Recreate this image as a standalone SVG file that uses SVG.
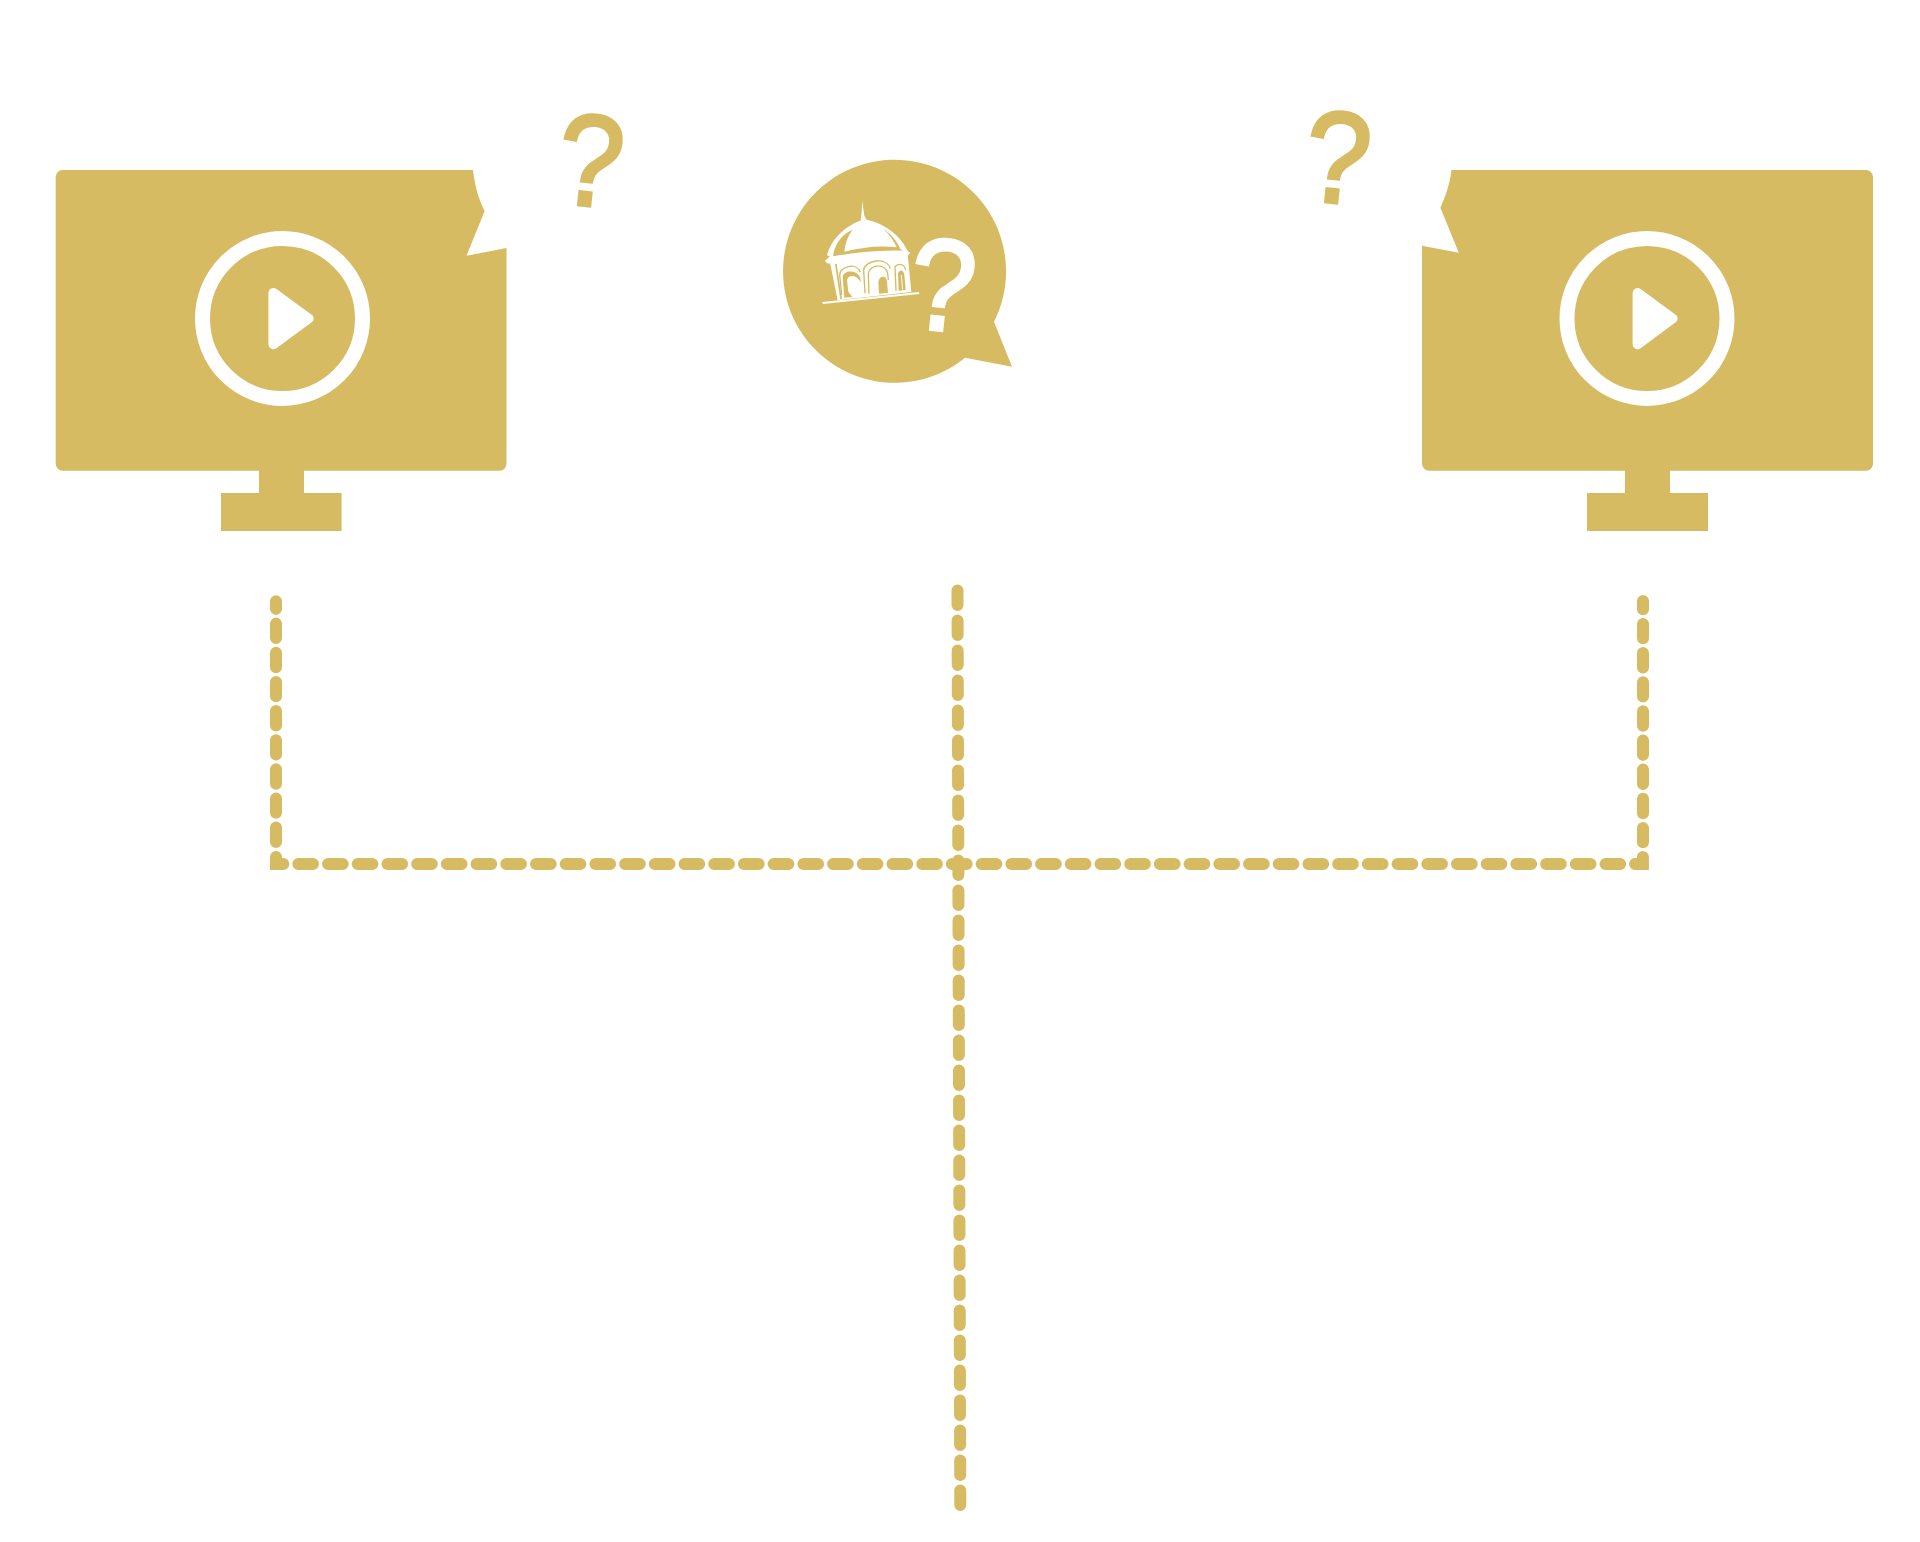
<svg xmlns="http://www.w3.org/2000/svg" width="1920" height="1542" viewBox="0 0 1920 1542">
<style>
.g{fill:#d7bb63}
.w{fill:#fff}
.ring{fill:none;stroke:#fff;stroke-width:15}
.q{font-family:"Liberation Sans",Arial,sans-serif;font-size:130px;text-anchor:middle;stroke-width:3.500}
.qg{fill:#d7bb63;stroke:#d7bb63}
.qw{fill:#fff;stroke:#fff}
.d{fill:none;stroke:#d7bb63;stroke-width:12;stroke-linecap:round;stroke-linejoin:miter}
.r{fill:none;stroke:#d7bb63;stroke-width:4}
</style>
<rect width="1920" height="1542" fill="#fff"/>
<g id="connectors">
<path class="d" d="M298.300 864H1635.300" stroke-dasharray="14.700 15.010"/>
<path class="d" d="M276 857V864H283.300"/>
<path class="d" d="M1642.900 857V864H1635.300"/>
<path class="d" d="M276 842V601.300" stroke-dasharray="14.400 14.740"/>
<path class="d" d="M1643 842.300V601" stroke-dasharray="14.400 14.740"/>
<path class="d" d="M960.300 1505L957.500 590" stroke-dasharray="14.600 15.400"/>
</g>
<g id="monitor-left">
<path class="g" d="M63 170H473C475 186 478 198 484.700 211L466.500 255.700L506.500 248V463.700A7 7 0 0 1 499.500 470.700H304V493H341.600V531H221V493H259V470.700H62.700A7 7 0 0 1 55.700 463.700V177.300A7 7 0 0 1 63 170Z"/>
<circle class="ring" cx="282.500" cy="318.500" r="80"/>
<path class="w" d="M268.400 293A5 5 0 0 1 276.400 289L312 315A4.500 4.500 0 0 1 312 322L276.400 348.300A5 5 0 0 1 268.400 344.500Z"/>
<text class="q qg" transform="translate(586 205.500) rotate(6) scale(.9 1)">?</text>
</g>
<g id="monitor-right">
<path class="g" d="M1451.500 170H1866A7 7 0 0 1 1873 177V463.700A7 7 0 0 1 1866 470.700H1670V493H1708V531H1587V493H1625V470.700H1429A7 7 0 0 1 1422 463.700V245.700L1458.800 252.700L1440.400 207.700C1446 195 1449.500 185 1451.500 170Z"/>
<circle class="ring" cx="1647" cy="318.500" r="80"/>
<path class="w" d="M1632.600 293A5 5 0 0 1 1640.600 289L1676 315A4.500 4.500 0 0 1 1676 322L1640.600 348.300A5 5 0 0 1 1632.600 344.500Z"/>
<text class="q qg" transform="translate(1333 202.500) rotate(6) scale(.9 1)">?</text>
</g>
<g id="bubble-center">
<path class="g" d="M994 321.700L1012 366.700L965 357.700A111.500 111.500 0 1 1 994 321.700Z"/>
<g transform="translate(815 195) scale(.3333)">
<path class="w" d="M142 17L148 62L155 75L137 75L139 62Z"/>
<path class="w" d="M36 180C50 130 90 95 138 76L155 74C205 84 258 120 280 172L240 175L60 195Z"/>
<path class="w" d="M30 197L42 186L92 174L240 160L275 166L286 173L280 181L50 206L36 205Z"/>
<path class="g" d="M55 176C65 135 85 118 112 104C98 125 90 145 88 170C140 158 190 151 245 157C238 140 225 120 205 101C225 115 245 135 256 162L264 167C190 165 120 172 55 184Z"/>
<path class="w" d="M45 203L278 178L289 291L68 316Z"/>
<path class="w" d="M22 321L312 291L313 297L23 327Z"/>
<path class="g" d="M60 207L65 206L81 312L76 313Z"/>
<path class="r" d="M80 300L74 240C74 215 125 200 136 232"/>
<path class="g" d="M88 308L83 245C86 226 122 222 135 245L138 262C122 236 100 240 96 255L100 290L112 306Z"/>
<path class="r" d="M150 295L146 225C150 195 215 185 226 220"/>
<path class="r" d="M162 296L160 235C165 208 210 203 218 235L220 255"/>
<path class="g" d="M192 296L190 262C192 240 214 240 216 258L219 293Z"/>
<path class="r" d="M243 287L240 215C250 205 268 205 272 225"/>
<path class="g" d="M251 287L249 235C255 222 266 225 268 240L272 285Z"/>
<path d="M259 240L263 284" fill="none" stroke="#fff" stroke-width="3"/>
</g>
<text class="q qw" transform="translate(938 330) rotate(6) scale(.9 1)">?</text>
</g>
</svg>
